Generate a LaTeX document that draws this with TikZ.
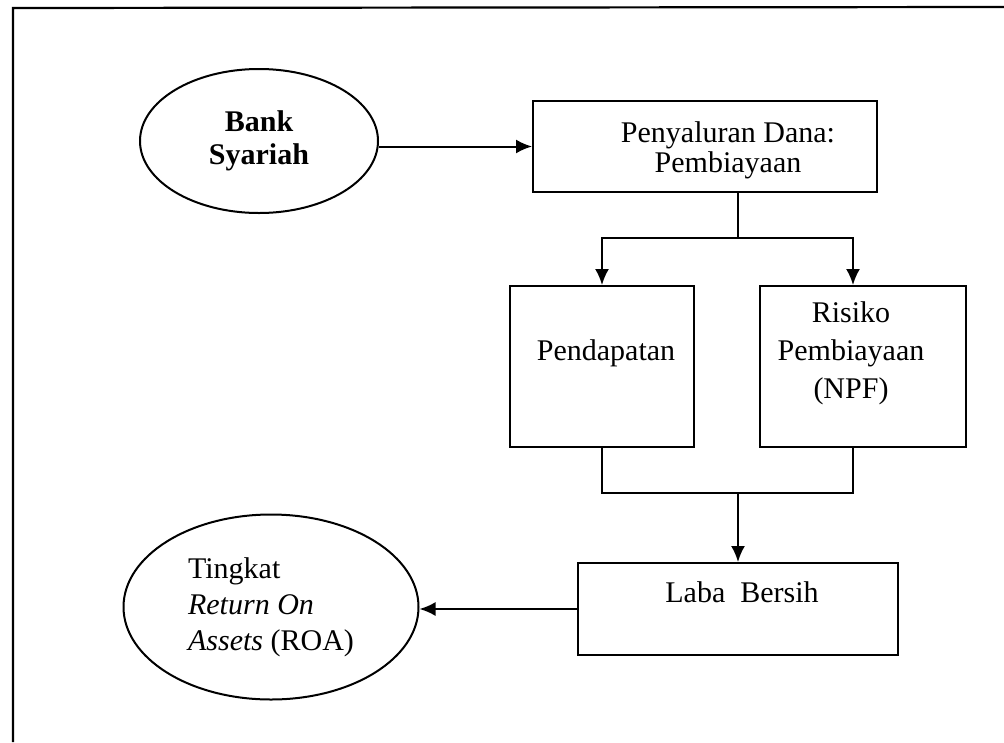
\documentclass[tikz,border=0pt]{standalone}
\usepackage{fontspec}
\setmainfont{Liberation Serif}
\usetikzlibrary{shapes.geometric,arrows.meta}

\begin{document}
\begin{tikzpicture}
  [x=1pt,y=-1pt,line width=2pt,
   every node/.style={font=\fontsize{30}{33}\selectfont},
   box/.style={draw,rectangle,inner sep=0pt},
   oval/.style={draw,ellipse,inner sep=0pt},
   txt/.style={align=center,inner sep=0pt},
   arr/.style={-{Latex[length=16pt,width=14pt]}}]
  \useasboundingbox (0,0) rectangle (1004,742);
  \draw[line width=2.2pt] (13,742) -- (13,8) -- (1004,7);
  % ovals
  \node[oval,minimum width=238,minimum height=144,align=center,
        font=\bfseries\fontsize{30}{33}\selectfont] (bank) at (259,141) {Bank\\Syariah};
  \node[oval,minimum width=295,minimum height=185,align=left,
        font=\fontsize{30}{36}\selectfont] (roa) at (271,607)
        {Tingkat\\\textit{Return On}\\\textit{Assets} (ROA)};
  % boxes
  \node[box,minimum width=344,minimum height=91] (salur) at (705,146.5) {};
  \node[box,minimum width=184,minimum height=161] (dapat) at (602,366.5) {};
  \node[box,minimum width=206,minimum height=161] (risiko) at (863,366.5) {};
  \node[box,minimum width=320,minimum height=92] (laba) at (738,609) {};
  \node[txt,font=\fontsize{30}{30}\selectfont] (salurtext) at (728,150) {Penyaluran Dana:\\Pembiayaan};
  \node[txt] (dapattext) at (606,353) {Pendapatan};
  \node[txt,font=\fontsize{30}{38}\selectfont] (risikotext) at (851,353) {Risiko\\Pembiayaan\\(NPF)};
  \node[txt] (labatext) at (742,592) {Laba\ \ Bersih};
  % connectors
  \coordinate (split) at (738,238);
  \coordinate (join) at (738,493);
  \draw[arr] (bank.east |- salur.west) -- (salur.west);
  \draw (salur.south -| split) -- (split);
  \draw[arr] (split) -| (dapat.north);
  \draw[arr] (split) -| ([xshift=-10pt]risiko.north);
  \draw (dapat.south) |- (join);
  \draw ([xshift=-10pt]risiko.south) |- (join);
  \draw[arr] (join) -- (laba.north);
  \draw[arr] (laba.west) -- (laba.west -| roa.east);
\end{tikzpicture}
\end{document}
